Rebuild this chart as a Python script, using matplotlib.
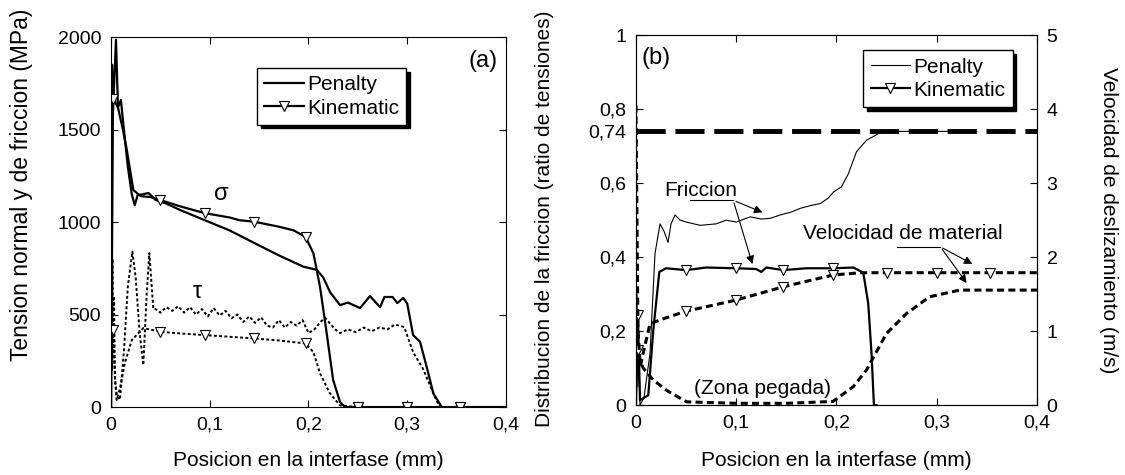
import numpy as np
import matplotlib
matplotlib.use('Agg')
import matplotlib.pyplot as plt
from matplotlib.lines import Line2D
from matplotlib.ticker import FuncFormatter

plt.rcParams['font.family'] = ['Liberation Sans', 'DejaVu Sans']
plt.rcParams['font.size'] = 14

# ---- panel (a): tensiones (MPa) ----
x_sig_pen = [0, 0.001, 0.002, 0.005, 0.007, 0.010, 0.013, 0.017, 0.021, 0.024, 0.027, 0.032,
             0.038, 0.045, 0.056, 0.07, 0.0945, 0.12, 0.144, 0.17, 0.1947, 0.2083, 0.215,
             0.222, 0.232, 0.240, 0.2522, 0.2623, 0.2725, 0.277, 0.2852, 0.290, 0.296, 0.300,
             0.306, 0.313, 0.3197, 0.3265, 0.335, 0.4]
y_sig_pen = [0, 1850, 1600, 1985, 1620, 1660, 1500, 1300, 1150, 1092, 1146, 1150,
             1157, 1120, 1100, 1065, 1011, 955, 890, 820, 759, 742, 700,
             620, 551, 565, 535, 600, 540, 595, 595, 562, 590, 560,
             389, 353, 218, 74, 0, 0]

x_sig_kin = [0, 0.002, 0.004, 0.007, 0.012, 0.016, 0.0226, 0.03, 0.04, 0.05, 0.07, 0.095,
             0.12, 0.13, 0.145, 0.17, 0.185, 0.197, 0.205, 0.2117, 0.218, 0.225, 0.232,
             0.237, 0.25, 0.30, 0.353, 0.4]
y_sig_kin = [0, 1667, 1650, 1620, 1500, 1389, 1173, 1140, 1135, 1119, 1085, 1048,
             1025, 1010, 1002, 975, 955, 920, 831, 650, 416, 146, 27,
             0, 0, 0, 0, 0]

x_tau_pen = [0, 0.0005, 0.001, 0.0015, 0.002, 0.003, 0.004, 0.006, 0.009, 0.013, 0.017,
             0.0216, 0.025, 0.029, 0.0327, 0.036, 0.0388, 0.0428, 0.045, 0.05, 0.056, 0.062,
             0.068, 0.074, 0.08, 0.086, 0.092, 0.098, 0.104, 0.11, 0.116, 0.122, 0.128,
             0.134, 0.14, 0.146, 0.152, 0.158, 0.164, 0.17, 0.176, 0.182, 0.188, 0.194,
             0.2, 0.206, 0.212, 0.217, 0.222, 0.227, 0.232, 0.24, 0.248, 0.256, 0.264,
             0.272, 0.28, 0.287, 0.293, 0.297, 0.306, 0.316, 0.3265, 0.333, 0.4]
y_tau_pen = [0, 1000, 200, 800, 300, 600, 150, 60, 40, 300, 650,
             840, 700, 400, 227, 600, 832, 530, 530, 510, 540, 520,
             545, 510, 540, 500, 530, 490, 535, 495, 520, 480, 500,
             460, 490, 455, 485, 440, 430, 470, 430, 460, 440, 470,
             400, 420, 460, 482, 450, 420, 400, 420, 405, 430, 410,
             430, 420, 445, 440, 432, 297, 207, 74, 0, 0]

x_tau_kin = [0, 0.001, 0.002, 0.004, 0.0057, 0.009, 0.014, 0.021, 0.0327, 0.05, 0.07, 0.095,
             0.12, 0.145, 0.17, 0.197, 0.205, 0.2117, 0.2217, 0.232, 0.25, 0.30, 0.353, 0.4]
y_tau_kin = [300, 200, 416, 150, 38, 100, 238, 362, 427, 407, 398, 389,
             380, 371, 360, 344, 297, 182, 74, 9, 0, 0, 0, 0]

mark_x_a = [0.002, 0.05, 0.095, 0.145, 0.197, 0.25, 0.30, 0.353]

# ---- panel (b): friccion (ratio) y velocidad (m/s) ----
x_fr_pen = [0, 0.001, 0.002, 0.003, 0.004, 0.008, 0.014, 0.019, 0.024, 0.028, 0.032, 0.035,
            0.039, 0.044, 0.05, 0.064, 0.08, 0.09, 0.1, 0.114, 0.125, 0.134, 0.145, 0.155,
            0.164, 0.175, 0.184, 0.192, 0.197, 0.205, 0.212, 0.22, 0.23, 0.242, 0.25, 0.3, 0.34]
r_fr_pen = [0.0, 0.3, 0.05, 0.15, 0.0, 0.02, 0.14, 0.41, 0.49, 0.47, 0.44, 0.49,
            0.514, 0.5, 0.495, 0.486, 0.49, 0.5, 0.495, 0.509, 0.503, 0.505, 0.515, 0.522,
            0.532, 0.54, 0.545, 0.56, 0.576, 0.59, 0.626, 0.685, 0.716, 0.734, 0.74, 0.74, 0.74]

x_fr_kin = [0, 0.002, 0.004, 0.0123, 0.0173, 0.0233, 0.03, 0.05, 0.07, 0.1, 0.12, 0.125,
            0.13, 0.147, 0.17, 0.197, 0.217, 0.2268, 0.2317, 0.235, 0.2374, 0.24]
r_fr_kin = [0.0, 0.243, 0.0135, 0.027, 0.203, 0.36, 0.37, 0.365, 0.372, 0.37, 0.368, 0.36,
            0.372, 0.365, 0.37, 0.37, 0.372, 0.358, 0.275, 0.14, 0.0, 0.0]

x_v_kin = [0, 0.002, 0.004, 0.008, 0.014, 0.03, 0.05, 0.1, 0.147, 0.197, 0.225, 0.25,
           0.30, 0.353, 0.4]
v_kin = [0.75, 0.745, 0.5, 0.75, 1.1, 1.18, 1.27, 1.42, 1.6, 1.76, 1.79, 1.79,
         1.79, 1.79, 1.79]

x_v_pen = [0, 0.001, 0.002, 0.004, 0.0073, 0.0173, 0.0306, 0.0506, 0.1, 0.15, 0.1965, 0.2168,
           0.23, 0.235, 0.25, 0.27, 0.293, 0.323, 0.35, 0.4]
v_pen = [4.05, 2.5, 1.0, 0.6, 0.5, 0.34, 0.2, 0.045, 0.025, 0.025, 0.05, 0.25,
         0.475, 0.6, 0.97, 1.24, 1.465, 1.555, 1.555, 1.555]

ratio_limit = 0.74
mark_x_b = [0.002, 0.05, 0.1, 0.147, 0.197, 0.25, 0.30, 0.353]

x_ticks = [0, 0.1, 0.2, 0.3, 0.4]
y_ticks_a = [0, 500, 1000, 1500, 2000]
y_ticks_b = [0, 0.2, 0.4, 0.6, 0.74, 0.8, 1]
y_ticks_v = [0, 1, 2, 3, 4, 5]


def comma(v, pos=None):
    return f'{v:g}'.replace('.', ',')


def marks(x, mx):
    return list(np.flatnonzero(np.isin(np.round(x, 4), np.round(mx, 4))))


tri = dict(marker='v', markersize=7.5, markerfacecolor='white', markeredgecolor='k',
           markeredgewidth=0.8)
shadow = {'ox': 2.5, 'oy': -2.5, 'color': 'k', 'alpha': 1}
leg_kw = dict(loc='upper left', borderaxespad=0, fancybox=False, framealpha=1, edgecolor='k',
              shadow=shadow, fontsize=15, handlelength=1.9, handletextpad=0.15,
              labelspacing=0.2, borderpad=0.35)

fig = plt.figure(figsize=(11.25, 4.75), dpi=100)
ax1 = fig.add_axes([0.0987, 0.143, 0.351, 0.779])
ax2 = fig.add_axes([0.5653, 0.147, 0.3564, 0.779])

# (a)
ax1.plot(x_sig_pen, y_sig_pen, color='k', lw=1.6)
ax1.plot(x_sig_kin, y_sig_kin, color='k', lw=1.6, markevery=marks(x_sig_kin, mark_x_a), **tri)
ax1.plot(x_tau_pen, y_tau_pen, color='k', lw=1.4, ls=(0, (1.5, 1.2)))
ax1.plot(x_tau_kin, y_tau_kin, color='k', lw=1.4, ls=(0, (1.5, 1.2)),
         markevery=marks(x_tau_kin, mark_x_a), **tri)
ax1.set_xlim(0, 0.4)
ax1.set_ylim(0, 2000)
ax1.set_xticks(x_ticks)
ax1.set_yticks(y_ticks_a)
ax1.xaxis.set_major_formatter(FuncFormatter(comma))
ax1.tick_params(direction='in', top=True, right=True, length=5, pad=7)
ax1.set_xlabel('Posicion en la interfase (mm)', fontsize=15)
ax1.set_ylabel('Tension normal y de friccion (MPa)', fontsize=16.5)
ax1.xaxis.set_label_coords(0.5, -0.12)
ax1.yaxis.set_label_coords(-0.198, 0.6)
ax1.text(0.392, 1870, '(a)', fontsize=17, ha='right', va='center')
ax1.text(0.112, 1151, 'σ', fontsize=17, ha='center', va='center')
ax1.text(0.0876, 621, 'τ', fontsize=17, ha='center', va='center')
h_a = [Line2D([], [], color='k', lw=1.6),
       Line2D([], [], color='k', lw=1.6, **tri)]
ax1.legend(h_a, ['Penalty', 'Kinematic'], bbox_to_anchor=(0.37, 0.916), **leg_kw)

# (b)
ax2.axhline(ratio_limit, color='k', lw=3.5, ls=(0, (6, 2)), zorder=1)
ax2.plot(x_fr_pen, r_fr_pen, color='k', lw=0.8)
ax2.plot(x_fr_kin, r_fr_kin, color='k', lw=1.6, markevery=marks(x_fr_kin, mark_x_b), **tri)
ax2.set_xlim(0, 0.4)
ax2.set_ylim(0, 1)
ax2.set_xticks(x_ticks)
ax2.set_yticks(y_ticks_b)
ax2.xaxis.set_major_formatter(FuncFormatter(comma))
ax2.yaxis.set_major_formatter(FuncFormatter(comma))
ax2.tick_params(direction='in', top=True, right=False, length=5, pad=7)
ax2.set_xlabel('Posicion en la interfase (mm)', fontsize=15)
ax2.set_ylabel('Distribucion de la friccion (ratio de tensiones)', fontsize=15)
ax2.xaxis.set_label_coords(0.5, -0.124)
ax2.yaxis.set_label_coords(-0.204, 0.503)

ax3 = ax2.twinx()
ax3.plot(x_v_kin, v_kin, color='k', lw=2.2, ls=(0, (2.3, 1.4)),
         markevery=marks(x_v_kin, mark_x_b), **tri)
ax3.plot(x_v_pen, v_pen, color='k', lw=2.2, ls=(0, (2.3, 1.4)))
ax3.set_ylim(0, 5)
ax3.set_yticks(y_ticks_v)
ax3.tick_params(direction='in', length=5, pad=7)
ax3.set_ylabel('Velocidad de deslizamiento (m/s)', rotation=270, fontsize=15)
ax3.yaxis.set_label_coords(1.202, 0.5)

ax2.text(0.006, 0.938, '(b)', fontsize=17, ha='left', va='center')
ax2.text(0.065, 0.58, 'Friccion', fontsize=15, ha='center', va='center')
ax2.plot([0.054, 0.097], [0.554, 0.554], color='k', lw=0.8)
for tip in [(0.1287, 0.518), (0.117, 0.374)]:
    ax2.annotate('', xy=tip, xytext=(0.097, 0.554),
                 arrowprops=dict(arrowstyle='-|>', color='k', lw=0.8, mutation_scale=12))
ax2.text(0.266, 0.465, 'Velocidad de material', fontsize=15, ha='center', va='center')
ax2.plot([0.2605, 0.3037], [0.428, 0.428], color='k', lw=0.8)
for tip in [(0.338, 0.378), (0.3315, 0.324)]:
    ax2.annotate('', xy=tip, xytext=(0.3037, 0.428),
                 arrowprops=dict(arrowstyle='-|>', color='k', lw=0.8, mutation_scale=12))
ax2.text(0.126, 0.046, '(Zona pegada)', fontsize=15, ha='center', va='center')

h_b = [Line2D([], [], color='k', lw=0.8),
       Line2D([], [], color='k', lw=1.6, **tri)]
ax3.legend(h_b, ['Penalty', 'Kinematic'], bbox_to_anchor=(0.567, 0.959), **leg_kw)

fig.savefig('out.png', dpi=100)
